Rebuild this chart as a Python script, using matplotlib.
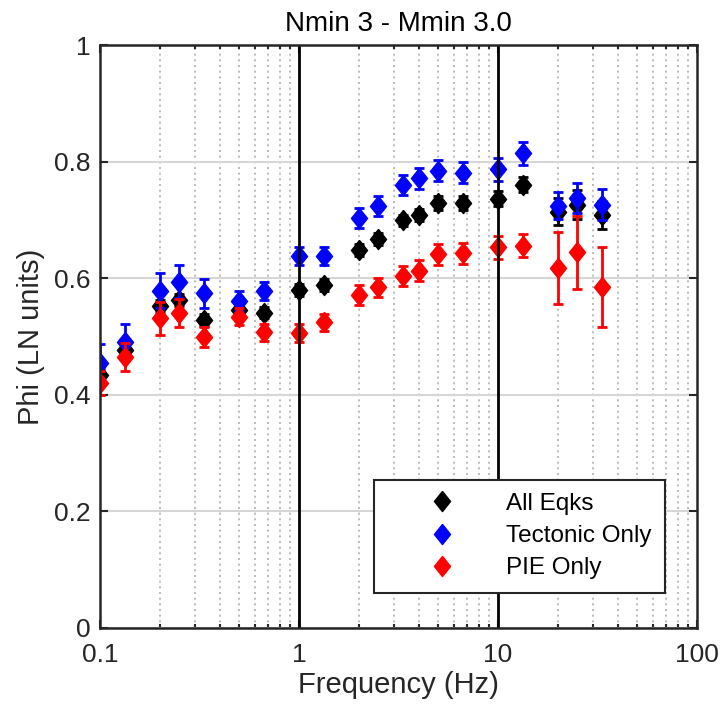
import numpy as np
import matplotlib
matplotlib.use("Agg")
import matplotlib.pyplot as plt
from matplotlib.lines import Line2D

plt.rcParams['font.family'] = ['Liberation Sans', 'DejaVu Sans']

# frequencies (Hz)
freq = [0.1, 0.1333, 0.2, 0.25, 0.3333, 0.5, 0.6667, 1.0, 1.333, 2.0,
        2.5, 3.333, 4.0, 5.0, 6.667, 10.0, 13.33, 20.0, 25.0, 33.33]

# All earthquakes
phi_all = [0.434, 0.476, 0.552, 0.563, 0.528, 0.545, 0.541, 0.580, 0.588, 0.648,
           0.667, 0.699, 0.708, 0.729, 0.729, 0.736, 0.760, 0.714, 0.726, 0.708]
err_all = [0.010, 0.010, 0.010, 0.010, 0.010, 0.010, 0.010, 0.010, 0.010, 0.010,
           0.010, 0.010, 0.010, 0.012, 0.012, 0.013, 0.013, 0.023, 0.025, 0.024]

# Tectonic only
phi_tec = [0.455, 0.491, 0.578, 0.594, 0.574, 0.561, 0.578, 0.638, 0.638, 0.703,
           0.724, 0.760, 0.771, 0.784, 0.781, 0.787, 0.814, 0.724, 0.737, 0.726]
err_tec = [0.032, 0.030, 0.030, 0.028, 0.025, 0.017, 0.015, 0.015, 0.015, 0.017,
           0.017, 0.017, 0.018, 0.018, 0.018, 0.020, 0.020, 0.023, 0.026, 0.027]

# PIE only
phi_pie = [0.420, 0.465, 0.531, 0.540, 0.499, 0.534, 0.507, 0.506, 0.524, 0.571,
           0.584, 0.604, 0.613, 0.641, 0.643, 0.653, 0.656, 0.617, 0.644, 0.585]
err_pie = [0.021, 0.024, 0.028, 0.024, 0.017, 0.015, 0.015, 0.015, 0.015, 0.017,
           0.017, 0.017, 0.018, 0.018, 0.018, 0.020, 0.020, 0.062, 0.062, 0.068]

series = [("All Eqks", phi_all, err_all, "black"),
          ("Tectonic Only", phi_tec, err_tec, "blue"),
          ("PIE Only", phi_pie, err_pie, "red")]

# slightly tall diamond like MATLAB's 'd'
diamond = [(0, 1), (0.8, 0), (0, -1), (-0.8, 0), (0, 1)]
msize = 14.5

fig = plt.figure(figsize=(7.24, 7.15), dpi=100)
ax = fig.add_axes([0.138, 0.122, 0.825, 0.815])

handles = []
for i, (name, y, e, c) in enumerate(series):
    ax.errorbar(freq, y, yerr=e, fmt='none', ecolor=c, elinewidth=2,
                capsize=3.5, capthick=2, zorder=3 + i)
    ax.plot(freq, y, linestyle='none', marker=diamond, markersize=msize,
            color=c, zorder=3 + i)
    handles.append(Line2D([], [], linestyle='none', marker=diamond,
                          markersize=msize, color=c, label=name))

ax.set_xscale('log')
ax.set_xlim(0.1, 100)
ax.set_ylim(0, 1)
ax.set_xticks([0.1, 1, 10, 100])
ax.set_xticklabels(['0.1', '1', '10', '100'])
ax.set_yticks([0, 0.2, 0.4, 0.6, 0.8, 1])
ax.set_yticklabels(['0', '0.2', '0.4', '0.6', '0.8', '1'])

# grid: light horizontal lines, dotted minor verticals, black decade lines on top
ax.grid(True, which='major', axis='y', color='#d6d6d6', linewidth=1.5, zorder=0)
ax.grid(True, which='minor', axis='x', color='#b0b0b0', linestyle=(0, (1.2, 2.2)),
        linewidth=1.2, zorder=0)
ax.set_axisbelow(True)
for xv in [1, 10]:
    ax.axvline(xv, color='black', linewidth=2, zorder=10)

ax.tick_params(which='both', direction='in', top=True, right=True,
               labelsize=19, colors='#262626', width=1.5)
ax.tick_params(which='major', length=6)
ax.tick_params(axis='x', which='major', pad=11)
ax.tick_params(axis='y', which='major', pad=7)
ax.tick_params(which='minor', length=3)
for sp in ax.spines.values():
    sp.set_linewidth(1.8)
    sp.set_color('#262626')
    sp.set_zorder(11)

ax.set_xlabel('Frequency (Hz)', fontsize=21, color='#262626', labelpad=3)
ax.set_ylabel('Phi (LN units)', fontsize=21, color='#262626', labelpad=6)
ax.set_title('Nmin 3 - Mmin 3.0', fontsize=20, color='black', pad=10)

leg = ax.legend(handles=handles, loc='lower right',
                bbox_to_anchor=(0.946, 0.06), fontsize=17.5, frameon=True,
                fancybox=False, edgecolor='#262626', framealpha=1,
                borderpad=0.55, labelspacing=0.42, handletextpad=0.4,
                handlelength=4.5, borderaxespad=0)
leg.get_frame().set_linewidth(1.5)
leg.set_zorder(20)

fig.savefig('out.png', dpi=100)
